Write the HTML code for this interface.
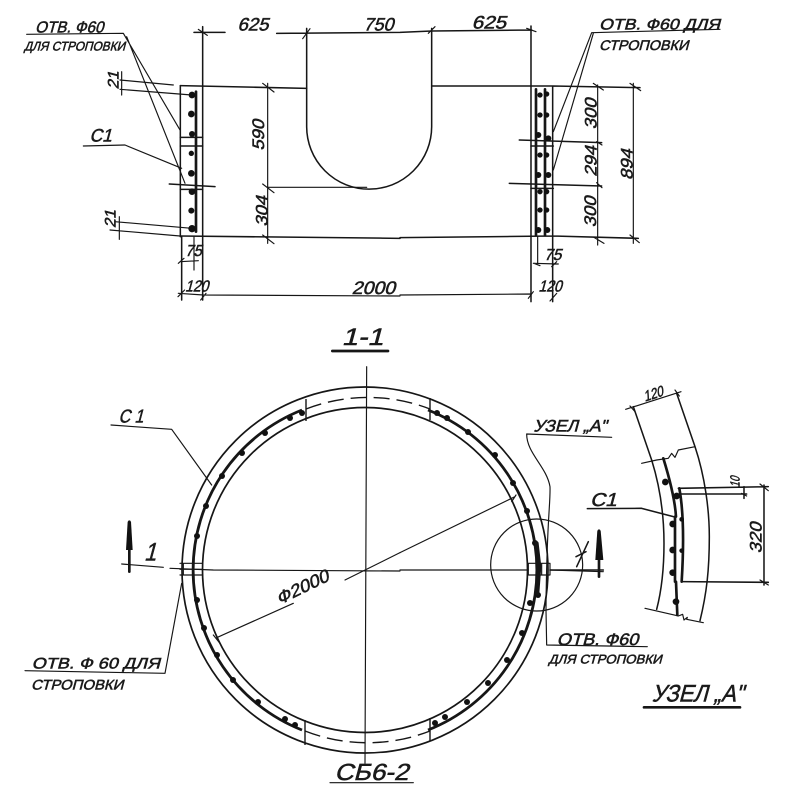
<!DOCTYPE html>
<html><head><meta charset="utf-8">
<style>
html,body{margin:0;padding:0;background:#fff;width:800px;height:800px;overflow:hidden}
svg{display:block;filter:blur(.35px)}
text{font-family:"Liberation Sans",sans-serif;fill:#1a1a1a;stroke:#1a1a1a;stroke-width:1.6px}
.l{fill:none;stroke:#161616;stroke-width:4.6;stroke-linecap:round;stroke-linejoin:round}
.t{stroke-width:3.5}
.h{stroke-width:8}
.x{stroke-width:12}
.d{fill:#111;stroke:none}
</style></head><body>
<svg width="800" height="800" viewBox="0 0 800 800" xmlns="http://www.w3.org/2000/svg">
<!-- Ring, real coordinates -->
<g fill="none" stroke="#161616" stroke-width="1.7">
<circle cx="365" cy="570" r="183"/>
<circle cx="365" cy="570" r="162.5"/>
<path d="M306,399V421M430,398V420M305,720V745M430,718V741" stroke-width="1.4"/>
<path d="M306,409A172,172 0 0 1 430,409M305,731A172,172 0 0 0 430,731" stroke-dasharray="16 7" stroke-width="1.4"/>
<path d="M302,410A172,172 0 0 0 302,730M428,410A172,172 0 0 1 428,730" stroke-width="2.8"/>
</g>
<g class="d">
<circle cx="302" cy="413" r="3"/><circle cx="290" cy="418" r="3"/><circle cx="265" cy="433" r="3"/><circle cx="242" cy="453" r="3"/><circle cx="222" cy="476" r="3"/><circle cx="206" cy="506" r="3"/><circle cx="197" cy="536" r="3"/><circle cx="197" cy="600" r="3"/><circle cx="204" cy="628" r="3"/><circle cx="217" cy="655" r="3"/><circle cx="233" cy="680" r="3"/><circle cx="258" cy="702" r="3"/><circle cx="285" cy="719" r="3"/><circle cx="295" cy="725" r="3"/>
<circle cx="437" cy="413" r="3"/><circle cx="447" cy="418" r="3"/><circle cx="468" cy="432" r="3"/><circle cx="495" cy="455" r="3"/><circle cx="513" cy="483" r="3"/><circle cx="527" cy="511" r="3"/><circle cx="535" cy="543" r="3"/><circle cx="538" cy="595" r="3"/><circle cx="530" cy="603" r="3"/><circle cx="522" cy="633" r="3"/><circle cx="507" cy="660" r="3"/><circle cx="488" cy="683" r="3"/><circle cx="467" cy="702" r="3"/><circle cx="445" cy="717" r="3"/><circle cx="435" cy="723" r="3"/>
</g>

<g transform="scale(.33333)">
<!-- Top view left part -->
<g class="l">
<path class="l t" d="M80,103L370,100L540,390M380,110L555,550M250,438L375,435L545,505"/>
<path class="l" d="M582,97H675M830,100L1200,97L1295,93M608,80V900M920,85V380A187.500,187.500 0 0 0 1295,380V85"/>
<path class="l" d="M541,257L920,265M540,708L1200,715"/>
<path class="l" d="M541,257V710M545,710V900"/>
<path class="l h" d="M588,275V695"/>
<path class="l" d="M541,412H608M541,438H608M508,552L645,560M541,568H608"/>
<path class="l t" d="M365,215V285M360,240L520,255M360,268L575,285M345,665L575,685M330,690L540,708M358,650V718"/>
<path class="l t" d="M803,250V730M803,562H1100M788,250L822,276M788,552L822,578M788,705L822,731"/>
<path class="l t" d="M540,785L595,782M582,710V810M535,880L610,885L1200,888M595,88L622,106M908,116L930,86M535,790L552,775M534,890L554,870M602,900L618,880"/>
</g>
<g class="d"><circle cx="576" cy="285" r="10"/><circle cx="574" cy="342" r="10"/><circle cx="576" cy="402" r="9"/><circle cx="574" cy="460" r="8"/><circle cx="574" cy="520" r="10"/><circle cx="576" cy="575" r="10"/><circle cx="574" cy="632" r="9"/><circle cx="576" cy="686" r="11"/></g>
<text transform="translate(105,98) skewX(-15)" font-size="48" textLength="205" lengthAdjust="spacingAndGlyphs">ОТВ. Ф60</text>
<text transform="translate(72,152) skewX(-15)" font-size="38" textLength="303" lengthAdjust="spacingAndGlyphs">ДЛЯ СТРОПОВКИ</text>
<text transform="translate(712,92) skewX(-15)" font-size="54" textLength="93" lengthAdjust="spacingAndGlyphs">625</text>
<text transform="translate(1090,92) skewX(-15)" font-size="54" textLength="90" lengthAdjust="spacingAndGlyphs">750</text>
<text transform="translate(268,425) skewX(-15)" font-size="54" textLength="67" lengthAdjust="spacingAndGlyphs">С1</text>
<text transform="translate(792,452) rotate(-90) skewX(-15)" font-size="50" textLength="92" lengthAdjust="spacingAndGlyphs">590</text>
<text transform="translate(802,680) rotate(-90) skewX(-15)" font-size="50" textLength="92" lengthAdjust="spacingAndGlyphs">304</text>
<text transform="translate(356,268) rotate(-90) skewX(-15)" font-size="46" textLength="54" lengthAdjust="spacingAndGlyphs">21</text>
<text transform="translate(346,684) rotate(-90) skewX(-15)" font-size="46" textLength="54" lengthAdjust="spacingAndGlyphs">21</text>
<text transform="translate(555,768) skewX(-15)" font-size="48" textLength="50" lengthAdjust="spacingAndGlyphs">75</text>
<text transform="translate(555,875) skewX(-15)" font-size="48" textLength="70" lengthAdjust="spacingAndGlyphs">120</text>
<text transform="translate(1055,882) skewX(-15)" font-size="54" textLength="130" lengthAdjust="spacingAndGlyphs">2000</text>

<!-- Top view right part -->
<g transform="translate(1200,0)">
<path class="l" d="M95,93L395,90M393,78V905M95,258H460L720,263M0,713L460,708L715,715M458,258V905"/>
<path class="l t" d="M960,88L575,98L460,395M580,100L460,510"/>
<path class="l h" d="M408,268V705M435,268V705"/>
<path class="l" d="M358,420L605,428M393,438H460M328,550L605,558M393,565H460"/>
<path class="l t" d="M593,255V735M700,250V730M580,250L610,270M690,250L722,272M590,425L606,435M590,548L606,563M582,712L612,730M690,705L718,728M413,710V790M400,790L475,792M0,885L393,882M385,895L400,875M450,903L470,880M85,100L105,80M380,85L408,95M402,790L420,797M455,800L470,785"/>
<g class="d"><circle cx="420" cy="285" r="8"/><circle cx="420" cy="345" r="8"/><circle cx="440" cy="345" r="8"/><circle cx="415" cy="405" r="9"/><circle cx="445" cy="415" r="9"/><circle cx="420" cy="465" r="8"/><circle cx="440" cy="465" r="8"/><circle cx="415" cy="525" r="9"/><circle cx="445" cy="525" r="9"/><circle cx="420" cy="575" r="8"/><circle cx="440" cy="575" r="8"/><circle cx="420" cy="630" r="8"/><circle cx="440" cy="630" r="8"/><circle cx="415" cy="690" r="9"/><circle cx="442" cy="690" r="9"/><circle cx="440" cy="282" r="8"/></g>
<text transform="translate(215,85) skewX(-15)" font-size="54" textLength="103" lengthAdjust="spacingAndGlyphs">625</text>
<text transform="translate(597,88) skewX(-15)" font-size="46" textLength="363" lengthAdjust="spacingAndGlyphs">ОТВ. Ф60 ДЛЯ</text>
<text transform="translate(597,150) skewX(-15)" font-size="42" textLength="268" lengthAdjust="spacingAndGlyphs">СТРОПОВКИ</text>
<text transform="translate(590,388) rotate(-90) skewX(-15)" font-size="50" textLength="92" lengthAdjust="spacingAndGlyphs">300</text>
<text transform="translate(590,530) rotate(-90) skewX(-15)" font-size="50" textLength="92" lengthAdjust="spacingAndGlyphs">294</text>
<text transform="translate(588,682) rotate(-90) skewX(-15)" font-size="50" textLength="92" lengthAdjust="spacingAndGlyphs">300</text>
<text transform="translate(698,540) rotate(-90) skewX(-15)" font-size="50" textLength="92" lengthAdjust="spacingAndGlyphs">894</text>
<text transform="translate(432,780) skewX(-15)" font-size="48" textLength="52" lengthAdjust="spacingAndGlyphs">75</text>
<text transform="translate(415,875) skewX(-15)" font-size="48" textLength="70" lengthAdjust="spacingAndGlyphs">120</text>
</g>

<!-- 1-1 -->
<text transform="translate(1025,1035) skewX(-15)" font-size="72" textLength="125" lengthAdjust="spacingAndGlyphs">1-1</text>
<path class="l h" d="M997,1053H1164"/>

<!-- Ring annotations left -->
<g transform="translate(0,1110)">
<path class="l t" d="M333,165L515,178L635,345M75,902L495,910L545,640M1100,-10L1095,1180M990,1238H1240"/>
<path class="l t" d="M365,582L490,592M510,595L640,600L1200,603M1035,630L1200,548M650,803L880,700M640,795L660,820"/>
<path class="l h" d="M388,455V605"/>
<path class="d" d="M383,455H393L398,540H378Z"/>
<path class="l t" d="M540,580H605M540,598H605M540,615H605M550,580V615"/>
<text transform="translate(355,158) skewX(-15)" font-size="56" textLength="75" lengthAdjust="spacingAndGlyphs">С 1</text>
<text transform="translate(432,572) skewX(-15)" font-size="76" textLength="36" lengthAdjust="spacingAndGlyphs">1</text>
<text transform="translate(95,895) skewX(-15)" font-size="46" textLength="385" lengthAdjust="spacingAndGlyphs">ОТВ. Ф 60 ДЛЯ</text>
<text transform="translate(93,958) skewX(-15)" font-size="42" textLength="277" lengthAdjust="spacingAndGlyphs">СТРОПОВКИ</text>
<text transform="translate(838,705) rotate(-26) skewX(-15)" font-size="52" textLength="170" lengthAdjust="spacingAndGlyphs">Ф2000</text>
<text transform="translate(1003,1230) skewX(-15)" font-size="70" textLength="222" lengthAdjust="spacingAndGlyphs">СБ6-2</text>
</g>

<!-- Ring annotations right and detail -->
<g transform="translate(1200,1110)">
<path class="l t" d="M0,600H385M450,600L610,605M0,548L345,380M335,395L348,375"/>
<path class="l h" d="M597,482V620"/>
<path class="d" d="M592,482H602L610,570H586Z"/>
<path class="l" d="M450,600H610"/>
<circle cx="410" cy="585" r="138" fill="none" stroke="#161616" stroke-width="3.6"/>
<path class="l t" d="M385,580H450V615H385ZM425,580V615"/>
<path class="l x" d="M410,520L418,590L412,670"/>
<path class="l t" d="M635,202L380,192C380,250 440,290 450,350C452,400 440,450 438,720L440,825L742,830"/>
<path class="l" d="M565,515L530,590M528,560L558,545"/>
<text transform="translate(400,185) skewX(-15)" font-size="50" textLength="220" lengthAdjust="spacingAndGlyphs">УЗЕЛ „А"</text>
<text transform="translate(470,825) skewX(-15)" font-size="50" textLength="245" lengthAdjust="spacingAndGlyphs">ОТВ. Ф60</text>
<text transform="translate(445,880) skewX(-15)" font-size="38" textLength="340" lengthAdjust="spacingAndGlyphs">ДЛЯ СТРОПОВКИ</text>
<text transform="translate(570,408) skewX(-15)" font-size="56" textLength="80" lengthAdjust="spacingAndGlyphs">С1</text>
<text transform="translate(755,995) skewX(-15)" font-size="72" textLength="275" lengthAdjust="spacingAndGlyphs">УЗЕЛ „А"</text>
<path class="l h" d="M732,1012H1020"/>

<!-- Detail -->
<path class="l" d="M700,110L755,270C780,350 792,440 792,520C792,600 785,660 770,718"/>
<path class="l" d="M830,70L885,230C915,320 928,420 928,500C928,600 920,670 900,752"/>
<path class="l t" d="M677,118L843,65M725,280L770,270L805,265L815,250L825,262L835,240L885,230M735,715L835,738L848,733L852,750L862,742L860,748L910,758"/>
<path class="l" d="M562,416L725,415L820,440M835,355L1105,350M845,372L1040,372M845,635L1105,637M1092,345V645M1032,350V385"/>
<path class="l h" d="M790,265C810,330 825,390 828,440M838,355C850,420 852,520 845,635M825,440V635M828,635L832,735"/>
<g class="d"><circle cx="796" cy="336" r="10"/><circle cx="830" cy="378" r="10"/><circle cx="818" cy="462" r="10"/><circle cx="845" cy="448" r="7"/><circle cx="818" cy="540" r="10"/><circle cx="845" cy="542" r="7"/><circle cx="818" cy="608" r="10"/><circle cx="828" cy="695" r="10"/></g>
<path class="l t" d="M1080,342L1105,362M1025,370L1040,378M1080,630L1105,645M690,108L705,125M825,60L838,78"/>
<text transform="translate(735,95) rotate(-18) skewX(-15)" font-size="44" textLength="60" lengthAdjust="spacingAndGlyphs">120</text>
<text transform="translate(1018,352) rotate(-90) skewX(-15)" font-size="40" textLength="32" lengthAdjust="spacingAndGlyphs">10</text>
<text transform="translate(1085,550) rotate(-90) skewX(-15)" font-size="50" textLength="92" lengthAdjust="spacingAndGlyphs">320</text>
</g>
</g>
</svg>
</body></html>
